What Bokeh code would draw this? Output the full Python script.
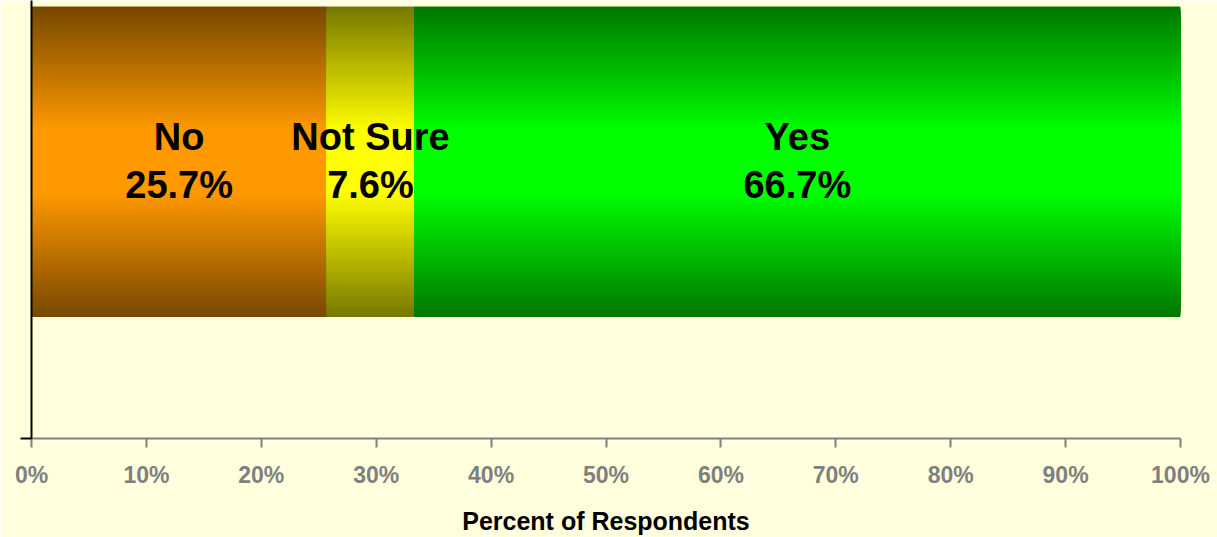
from bokeh.plotting import figure
from bokeh.models import Range1d, FixedTicker
from bokeh.core.properties import value
from bokeh.embed import file_html
from bokeh.resources import INLINE

# ---- data ----
categories = ["No", "Not Sure", "Yes"]
percents = [25.7, 7.6, 66.7]
value_labels = ["25.7%", "7.6%", "66.7%"]
center_colors = [(255, 153, 0), (255, 255, 0), (0, 255, 0)]
x_ticks = [0, 10, 20, 30, 40, 50, 60, 70, 80, 90, 100]
x_tick_labels = ["0%", "10%", "20%", "30%", "40%", "50%", "60%", "70%", "80%", "90%", "100%"]
x_title = "Percent of Respondents"

BG = "#FFFFDD"
FONT = "Liberation Sans"
FRAME_H = 440
BAR_BOTTOM_PX = 122   # pixels above frame bottom
BAR_H_PX = 312
EDGE = 0.47
FLAT = 0.2

p = figure(width=1217, height=537, output_backend="svg", toolbar_location=None,
           x_range=Range1d(0, 100), y_range=Range1d(0, FRAME_H),
           min_border_left=31, min_border_right=37, min_border_top=0, min_border_bottom=97)
p.background_fill_color = BG
p.border_fill_color = BG
p.outline_line_color = None
p.xgrid.visible = False
p.ygrid.visible = False

# stacked bar, shaded by nested centred layers (dark edges -> bright middle)
lefts = []
acc = 0.0
for v in percents:
    lefts.append(acc)
    acc += v

bar_c = BAR_BOTTOM_PX + BAR_H_PX / 2
half = BAR_H_PX // 2
for left, v, col in zip(lefts, percents, center_colors):
    right = left + v
    bottoms, tops, cols = [], [], []
    for hh in range(half, int(half * FLAT) - 1, -1):
        d = hh / half
        t = min(1.0, (1 - d) / (1 - FLAT))
        f = EDGE + (1 - EDGE) * t
        c = tuple(int(round(ch * f)) for ch in col)
        bottoms.append(bar_c - hh)
        tops.append(bar_c + hh)
        cols.append("#%02x%02x%02x" % c)
    p.quad(left=left, right=right, bottom=bottoms, top=tops, fill_color=cols,
           line_color=None)

mids = [l + v / 2 for l, v in zip(lefts, percents)]
p.text(x=mids, y=[bar_c + 25] * 3, text=categories,
       text_font=value(FONT), text_font_style="bold", text_font_size="38px",
       text_align="center", text_baseline="middle", text_color="black")
p.text(x=mids, y=[bar_c - 23] * 3, text=value_labels,
       text_font=value(FONT), text_font_style="bold", text_font_size="38px",
       text_align="center", text_baseline="middle", text_color="black")

# x axis
xa = p.xaxis[0]
xa.ticker = FixedTicker(ticks=x_ticks)
xa.major_label_overrides = {t: l for t, l in zip(x_ticks, x_tick_labels)}
xa.axis_line_color = "#808080"
xa.axis_line_width = 2
xa.major_tick_line_color = "#808080"
xa.major_tick_line_width = 2
xa.major_tick_in = 0
xa.major_tick_out = 9
xa.minor_tick_line_color = None
xa.major_label_text_color = "#808080"
xa.major_label_text_font = FONT
xa.major_label_text_font_style = "bold"
xa.major_label_text_font_size = "23px"
xa.major_label_standoff = 14
xa.axis_label = x_title
xa.axis_label_text_font = FONT
xa.axis_label_text_font_style = "bold"
xa.axis_label_text_font_size = "25px"
xa.axis_label_text_color = "black"
xa.axis_label_standoff = 16

# y axis
ya = p.yaxis[0]
ya.ticker = FixedTicker(ticks=[0])
ya.major_label_overrides = {0: ""}
ya.axis_line_color = "black"
ya.axis_line_width = 2
ya.major_tick_line_color = "black"
ya.major_tick_line_width = 2
ya.major_tick_in = 0
ya.major_tick_out = 11
ya.minor_tick_line_color = None
ya.major_label_standoff = 0

html = file_html(p, INLINE)
html = html.replace("<body>", '<body style="background-color:#FFFFDD;">', 1)
open("out.html", "w").write(html)
